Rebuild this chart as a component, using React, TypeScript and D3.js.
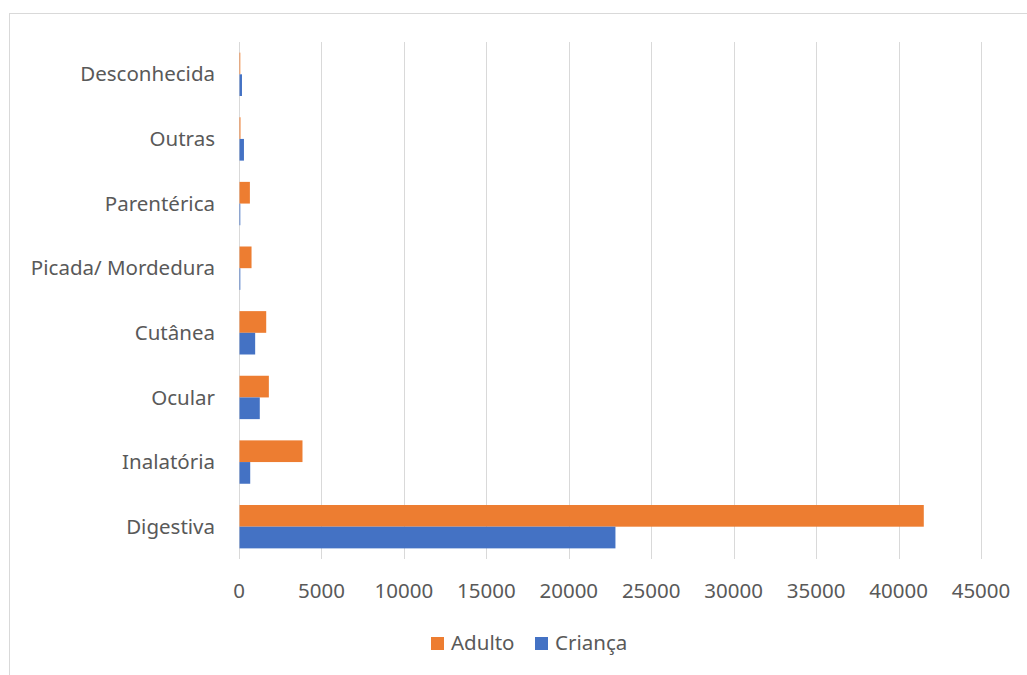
import React from 'react';
import * as d3 from 'd3';

// data
const categories = ['Digestiva', 'Inalatória', 'Ocular', 'Cutânea', 'Picada/ Mordedura', 'Parentérica', 'Outras', 'Desconhecida'];
const adulto = [41500, 3820, 1780, 1620, 730, 630, 60, 40];
const crianca = [22800, 650, 1230, 950, 50, 40, 270, 150];
const xTicks = [0, 5000, 10000, 15000, 20000, 25000, 30000, 35000, 40000, 45000];
const seriesNames = ['Adulto', 'Criança'];
const colors = ['#ED7D31', '#4472C4'];

const W = 1027;
const H = 675;
const FONT = 'Noto Sans, sans-serif';
const FS = 20.5;
const TEXT = '#595959';

const App = () => {
    const plot = { left: 239, right: 981, top: 42, bottom: 559 };

    const x = d3.scaleLinear().domain([0, 45000]).range([plot.left, plot.right]);
    // first category at the bottom, as Excel does
    const y = d3.scaleBand()
        .domain([...categories].reverse())
        .range([plot.top, plot.bottom]);
    const inner = d3.scaleBand()
        .domain(seriesNames)
        .range([0, y.bandwidth()])
        .paddingOuter(0.49)
        .paddingInner(0);

    const series = [adulto, crianca];

    return (
        <svg width={W} height={H} style={{ position: 'absolute', left: 0, top: 0, fontFamily: FONT }}>
            <rect x={0} y={0} width={W} height={H} fill="#fff" />
            {/* chart border */}
            <rect x={9.5} y={13.5} width={W + 10} height={H + 10} fill="none" stroke="#d9d9d9" strokeWidth={1} />

            {/* grid */}
            {xTicks.map(t => (
                <line key={t} x1={Math.round(x(t)) + 0.5} x2={Math.round(x(t)) + 0.5} y1={plot.top} y2={plot.bottom}
                    stroke="#d9d9d9" strokeWidth={1} />
            ))}

            {/* bars */}
            {categories.map((c, i) => (
                <g key={c}>
                    {series.map((s, j) => (
                        <rect key={j}
                            x={x(0) + 0.5}
                            y={(y(c) || 0) + (inner(seriesNames[j]) || 0)}
                            width={Math.max(x(s[i]) - x(0), 0.8)}
                            height={inner.bandwidth()}
                            fill={colors[j]} />
                    ))}
                </g>
            ))}

            {/* category labels */}
            {categories.map(c => (
                <text key={c} x={215} y={(y(c) || 0) + y.bandwidth() / 2} dy="0.35em"
                    textAnchor="end" fontSize={FS} fill={TEXT}>{c}</text>
            ))}

            {/* x tick labels */}
            {xTicks.map(t => (
                <text key={t} x={x(t)} y={591} dy="0.35em" textAnchor="middle" fontSize={FS} fill={TEXT}>{t}</text>
            ))}

            {/* legend */}
            <g>
                <rect x={431} y={637} width={13} height={13} fill={colors[0]} />
                <text x={451} y={643} dy="0.35em" fontSize={FS} fill={TEXT}>{seriesNames[0]}</text>
                <rect x={535} y={637} width={13} height={13} fill={colors[1]} />
                <text x={555} y={643} dy="0.35em" fontSize={FS} fill={TEXT}>{seriesNames[1]}</text>
            </g>
        </svg>
    );
};

export default App;
